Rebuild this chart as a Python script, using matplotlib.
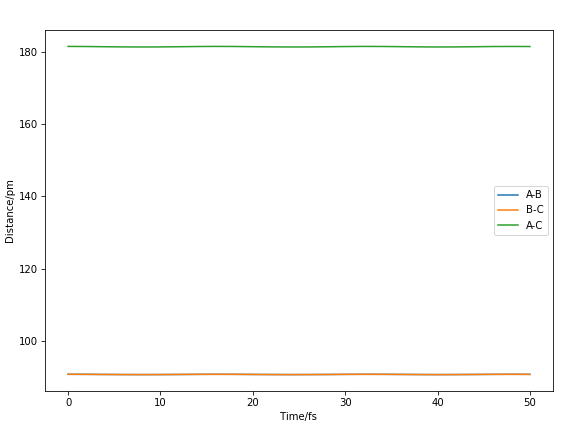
import matplotlib
matplotlib.use("Agg")
import matplotlib.pyplot as plt

# time in fs, distances in pm
time = [0, 2, 4, 6, 8, 10, 12, 14, 16, 18, 20, 22, 24, 26, 28, 30, 32, 34, 36, 38, 40, 42, 44, 46, 48, 50]
d_ab = [90.75, 90.74, 90.71, 90.68, 90.67, 90.68, 90.70, 90.73, 90.75, 90.74, 90.71, 90.69, 90.67,
        90.68, 90.70, 90.73, 90.75, 90.74, 90.72, 90.69, 90.67, 90.68, 90.71, 90.73, 90.75, 90.74]
d_bc = [90.75, 90.73, 90.70, 90.68, 90.67, 90.68, 90.71, 90.74, 90.75, 90.74, 90.71, 90.68, 90.67,
        90.68, 90.70, 90.73, 90.75, 90.74, 90.71, 90.68, 90.67, 90.68, 90.70, 90.74, 90.75, 90.73]
d_ac = [181.50, 181.47, 181.41, 181.36, 181.34, 181.36, 181.41, 181.47, 181.50, 181.48, 181.42, 181.37, 181.34,
        181.35, 181.40, 181.46, 181.50, 181.48, 181.43, 181.37, 181.34, 181.36, 181.41, 181.47, 181.49, 181.47]

fig = plt.figure(figsize=(8, 6), dpi=72.5)
ax = fig.add_axes([45 / 580, 1 - 391 / 435, 508 / 580, 361 / 435])

ax.plot(time, d_ab, label='A-B')
ax.plot(time, d_bc, label='B-C')
ax.plot(time, d_ac, label='A-C')

ax.set_xlabel('Time/fs')
ax.set_ylabel('Distance/pm')
ax.legend(loc='center right')

fig.savefig('out.png', dpi=72.5)
